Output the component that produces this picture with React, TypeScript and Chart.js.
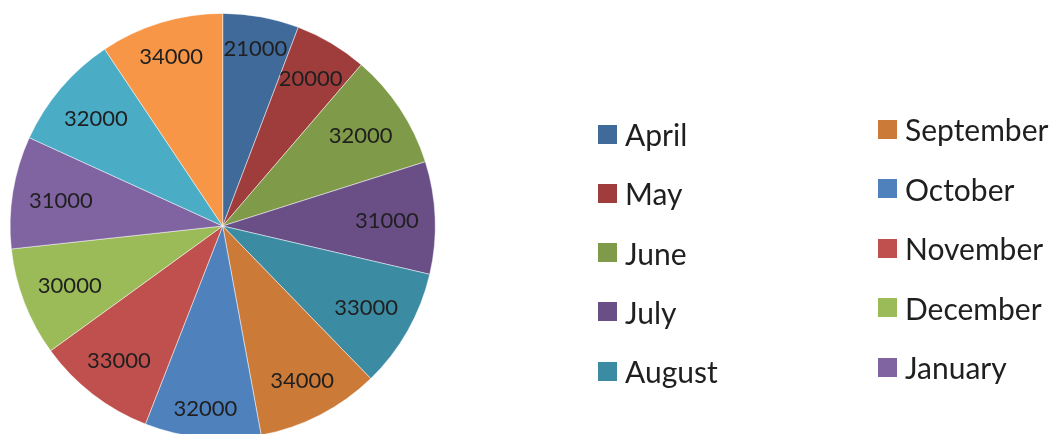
import React, { useEffect, useRef } from "react";
import { Chart, registerables } from "chart.js";

Chart.register(...registerables);

const months = [
  "April", "May", "June", "July", "August", "September",
  "October", "November", "December", "January", "February", "March",
];
const values = [21000, 20000, 32000, 31000, 33000, 34000, 32000, 33000, 30000, 31000, 32000, 34000];
const colors = [
  "#3F6A9A", "#9E3D3C", "#7F9A48", "#6A4F86", "#3B8CA3", "#CC7A38",
  "#4F81BD", "#C0504D", "#9BBB59", "#8064A2", "#4BACC6", "#F79646",
];
// only the first ten entries fit in the original legend
const legendCount = 10;

const labelPlugin = {
  id: "sliceLabels",
  afterDatasetsDraw(chart: any) {
    const ctx = chart.ctx;
    const meta = chart.getDatasetMeta(0);
    ctx.save();
    ctx.font = "22px Lato";
    ctx.fillStyle = "#1f1f1f";
    ctx.textAlign = "center";
    ctx.textBaseline = "middle";
    meta.data.forEach((arc: any, i: number) => {
      const text = String(chart.data.datasets[0].data[i]);
      const mid = (arc.startAngle + arc.endAngle) / 2;
      const c = Math.cos(mid);
      const s = Math.sin(mid);
      const a = (c >= 0 ? 1 : -1) * (ctx.measureText(text).width / 2);
      const b = (s >= 0 ? 1 : -1) * 8;
      const T = arc.outerRadius - 16;
      const k = c * a + s * b;
      const r = -k + Math.sqrt(k * k - (a * a + b * b - T * T));
      ctx.fillText(text, arc.x + c * r, arc.y + s * r + 1);
    });
    ctx.restore();
  },
};

export default function App() {
  const ref = useRef<HTMLCanvasElement>(null);
  useEffect(() => {
    document.body.style.margin = "0";
    const chart = new Chart(ref.current!, {
      type: "pie",
      data: {
        labels: months,
        datasets: [
          {
            data: values,
            backgroundColor: colors,
            borderColor: "rgba(255,255,255,0.6)",
            borderWidth: 0.8,
          },
        ],
      },
      options: {
        responsive: false,
        animation: false,
        layout: { padding: { left: 9.7, right: 621.3, top: 13, bottom: 11 } },
        plugins: { legend: { display: false }, tooltip: { enabled: false } },
      },
      plugins: [labelPlugin],
    });
    let alive = true;
    document.fonts.load("22px Lato").then(() => {
      if (alive) chart.update();
    });
    return () => {
      alive = false;
      chart.destroy();
    };
  }, []);

  const col1 = [134, 193.3, 252.6, 311.9, 371.2];
  const col2 = [129, 188.5, 248, 307.5, 367];

  return (
    <div style={{ position: "relative", width: 1057, height: 434, overflow: "hidden", background: "#fff" }}>
      <canvas ref={ref} width={1057} height={450} style={{ position: "absolute", left: 0, top: 0 }} />
      {months.slice(0, legendCount).map((m, i) => {
        const inFirst = i < 5;
        const cy = inFirst ? col1[i] : col2[i - 5];
        const left = inFirst ? 598 : 878;
        return (
          <div
            key={m}
            style={{
              position: "absolute",
              left,
              top: cy - 20,
              height: 40,
              display: "flex",
              alignItems: "center",
              fontFamily: "Lato",
              fontSize: 30,
              color: "#1f1f1f",
              whiteSpace: "nowrap",
            }}
          >
            <span style={{ display: "inline-block", width: 19, height: 19, background: colors[i], marginRight: 8 }} />
            <span>{m}</span>
          </div>
        );
      })}
    </div>
  );
}
